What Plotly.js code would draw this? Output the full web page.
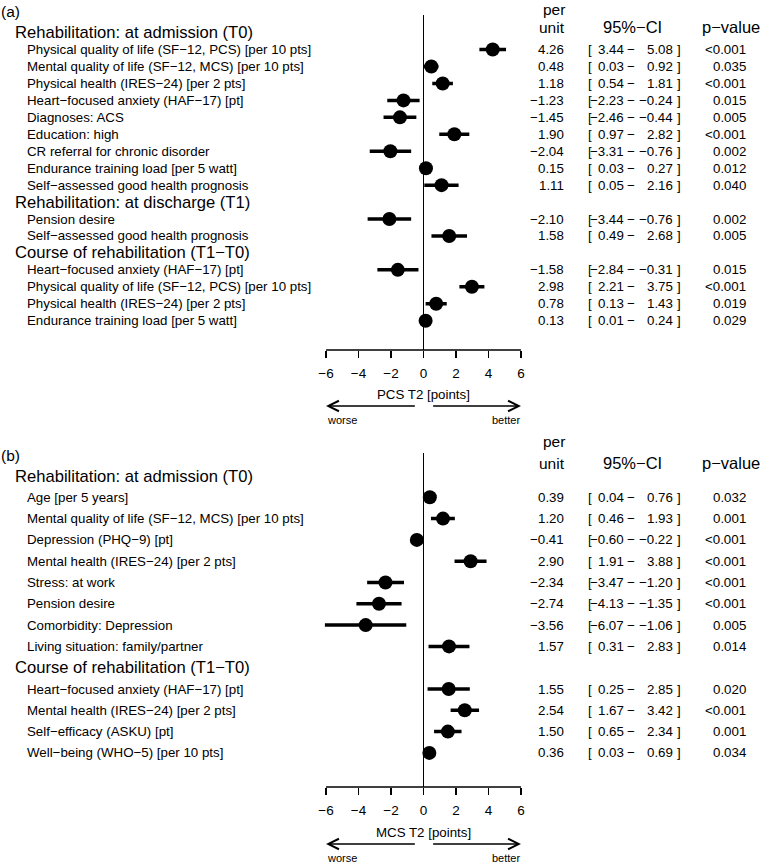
<!DOCTYPE html>
<html><head><meta charset="utf-8">
<script src="https://cdn.plot.ly/plotly-3.0.1.min.js"></script>
<style>html,body{margin:0;padding:0;background:#fff}#chart{width:766px;height:865px}</style>
</head><body><div id="chart"></div>
<script>
// ---------- Panel (a): PCS T2 ----------
const aGroups = ["Rehabilitation: at admission (T0)", "Rehabilitation: at discharge (T1)", "Course of rehabilitation (T1\u2212T0)"];
const aGroupSizes = [9, 2, 4];
const aLabels = [
  "Physical quality of life (SF\u221212, PCS) [per 10 pts]",
  "Mental quality of life (SF\u221212, MCS) [per 10 pts]",
  "Physical health (IRES\u221224) [per 2 pts]",
  "Heart\u2212focused anxiety (HAF\u221217) [pt]",
  "Diagnoses: ACS",
  "Education: high",
  "CR referral for chronic disorder",
  "Endurance training load [per 5 watt]",
  "Self\u2212assessed good health prognosis",
  "Pension desire",
  "Self\u2212assessed good health prognosis",
  "Heart\u2212focused anxiety (HAF\u221217) [pt]",
  "Physical quality of life (SF\u221212, PCS) [per 10 pts]",
  "Physical health (IRES\u221224) [per 2 pts]",
  "Endurance training load [per 5 watt]"
];
const aEst = [4.26, 0.48, 1.18, -1.23, -1.45, 1.90, -2.04, 0.15, 1.11, -2.10, 1.58, -1.58, 2.98, 0.78, 0.13];
const aLo  = [3.44, 0.03, 0.54, -2.23, -2.46, 0.97, -3.31, 0.03, 0.05, -3.44, 0.49, -2.84, 2.21, 0.13, 0.01];
const aHi  = [5.08, 0.92, 1.81, -0.24, -0.44, 2.82, -0.76, 0.27, 2.16, -0.76, 2.68, -0.31, 3.75, 1.43, 0.24];
const aP   = ["<0.001", "0.035", "<0.001", "0.015", "0.005", "<0.001", "0.002", "0.012", "0.040", "0.002", "0.005", "0.015", "<0.001", "0.019", "0.029"];
const aAxisTitle = "PCS T2 [points]";

// ---------- Panel (b): MCS T2 ----------
const bGroups = ["Rehabilitation: at admission (T0)", "Course of rehabilitation (T1\u2212T0)"];
const bGroupSizes = [8, 4];
const bLabels = [
  "Age [per 5 years]",
  "Mental quality of life (SF\u221212, MCS) [per 10 pts]",
  "Depression (PHQ\u22129) [pt]",
  "Mental health (IRES\u221224) [per 2 pts]",
  "Stress: at work",
  "Pension desire",
  "Comorbidity: Depression",
  "Living situation: family/partner",
  "Heart\u2212focused anxiety (HAF\u221217) [pt]",
  "Mental health (IRES\u221224) [per 2 pts]",
  "Self\u2212efficacy (ASKU) [pt]",
  "Well\u2212being (WHO\u22125) [per 10 pts]"
];
const bEst = [0.39, 1.20, -0.41, 2.90, -2.34, -2.74, -3.56, 1.57, 1.55, 2.54, 1.50, 0.36];
const bLo  = [0.04, 0.46, -0.60, 1.91, -3.47, -4.13, -6.07, 0.31, 0.25, 1.67, 0.65, 0.03];
const bHi  = [0.76, 1.93, -0.22, 3.88, -1.20, -1.35, -1.06, 2.83, 2.85, 3.42, 2.34, 0.69];
const bP   = ["0.032", "0.001", "<0.001", "<0.001", "<0.001", "<0.001", "0.005", "0.014", "0.020", "<0.001", "0.001", "0.034"];
const bAxisTitle = "MCS T2 [points]";

// ---------- shared ----------
const xTicks = [-6, -4, -2, 0, 2, 4, 6];
const colHeaders = ["per", "unit", "95%\u2212CI", "p\u2212value"];
const panelTags = ["(a)", "(b)"];
const worseBetter = ["worse", "better"];

const W = 766, H = 865;
const FONT = "Liberation Sans, Arial, Helvetica, sans-serif";
const px = v => v / W;
const py = v => 1 - v / H;
const fmt = v => v.toFixed(2).replace("-", "\u2212");

function rowsFor(sizes) {
  const headerRows = [], itemRows = [];
  let r = 0;
  sizes.forEach(n => { headerRows.push(r); r++; for (let i = 0; i < n; i++) { itemRows.push(r); r++; } });
  return { headerRows, itemRows };
}

const annotations = [];
function txt(text, x, yref, y, anchor, size) {
  annotations.push({ text, x: px(x), xref: "paper", y, yref, xanchor: anchor, yanchor: "middle",
    showarrow: false, font: { family: FONT, size, color: "black" }, borderpad: 0 });
}

function buildPanel(opt) {
  const { groups, sizes, labels, est, lo, hi, p, yref, xref, axTitle, geo } = opt;
  const { headerRows, itemRows } = rowsFor(sizes);
  groups.forEach((g, i) => txt(g, 14, yref, headerRows[i], "left", 16.6));
  labels.forEach((l, i) => {
    const r = itemRows[i];
    txt(l, 26, yref, r, "left", 13.3);
    txt(fmt(est[i]), 565, yref, r, "right", 13.3);
    txt("[", 587, yref, r, "left", 13.3);
    txt(fmt(lo[i]), 625, yref, r, "right", 13.3);
    txt("\u2212", 631, yref, r, "center", 13.3);
    txt(fmt(hi[i]), 674, yref, r, "right", 13.3);
    txt("]", 676, yref, r, "left", 13.3);
    txt(p[i], 747, yref, r, "right", 13.3);
  });
  // column headers (paper coords)
  txt(colHeaders[0], 566, "paper", py(geo.perY), "right", 15.5);
  txt(colHeaders[1], 566, "paper", py(geo.unitY), "right", 15.5);
  txt(colHeaders[2], 632, "paper", py(geo.ciY), "center", 16.5);
  txt(colHeaders[3], 731, "paper", py(geo.ciY), "center", 16.5);
  txt(geo.tag, 0, "paper", py(geo.tagY), "left", 15.5);
  // axis title
  annotations.push({ text: axTitle, x: 0, xref, y: py(geo.titleY), yref: "paper", xanchor: "center", yanchor: "middle",
    showarrow: false, font: { family: FONT, size: 13.3, color: "black" } });
  // arrows
  annotations.push({ text: "", x: -6, xref, y: py(geo.arrowY), yref: "paper", axref: xref, ax: -0.44, ayref: "pixel", ay: 0,
    showarrow: true, arrowhead: 5, arrowsize: 1.6, arrowwidth: 1.3, arrowcolor: "black", standoff: 0 });
  annotations.push({ text: "", x: 6, xref, y: py(geo.arrowY), yref: "paper", axref: xref, ax: 0.5, ayref: "pixel", ay: 0,
    showarrow: true, arrowhead: 5, arrowsize: 1.6, arrowwidth: 1.3, arrowcolor: "black", standoff: 0 });
  txt(worseBetter[0], 326, "paper", py(geo.arrowY + 14), "left", 11);
  txt(worseBetter[1], 521, "paper", py(geo.arrowY + 14), "right", 11);

  return {
    type: "scatter", mode: "markers", x: est, y: itemRows, xaxis: xref, yaxis: yref,
    marker: { size: 14, color: "black" },
    error_x: { type: "data", symmetric: false, array: est.map((e, i) => hi[i] - e), arrayminus: est.map((e, i) => e - lo[i]),
      thickness: 3.5, width: 0, color: "black" },
    cliponaxis: false, hoverinfo: "skip"
  };
}

const traceA = buildPanel({ groups: aGroups, sizes: aGroupSizes, labels: aLabels, est: aEst, lo: aLo, hi: aHi, p: aP,
  yref: "y", xref: "x", axTitle: aAxisTitle,
  geo: { perY: 9.3, unitY: 28, ciY: 27, tagY: 11, tag: panelTags[0], titleY: 394, arrowY: 406 } });
const traceB = buildPanel({ groups: bGroups, sizes: bGroupSizes, labels: bLabels, est: bEst, lo: bLo, hi: bHi, p: bP,
  yref: "y2", xref: "x2", axTitle: bAxisTitle,
  geo: { perY: 442, unitY: 463, ciY: 463, tagY: 455, tag: panelTags[1], titleY: 832, arrowY: 844 } });

const xDomain = [px(323.6), px(523.4)];
function xAxis(anchor) {
  return { domain: xDomain, range: [-6.15, 6.15], anchor, tickvals: xTicks, ticks: "outside", ticklen: 7, tickwidth: 1.3,
    tickcolor: "black", showgrid: false, showline: false, zeroline: true, zerolinecolor: "black", zerolinewidth: 1.3,
    ticklabelstandoff: 4,
    tickfont: { family: FONT, size: 13.5, color: "black" }, fixedrange: true };
}
function yAxis(anchor, domain, range) {
  return { domain, range, anchor, visible: false, showgrid: false, zeroline: false, fixedrange: true };
}

const layout = {
  width: W, height: H, margin: { l: 0, r: 0, t: 0, b: 0 },
  paper_bgcolor: "white", plot_bgcolor: "white", showlegend: false,
  font: { family: FONT, color: "black" },
  xaxis: xAxis("y"),
  yaxis: yAxis("x", [py(350), py(15)], [18.73, -1.04]),
  xaxis2: xAxis("y2"),
  yaxis2: yAxis("x2", [py(787), py(453)], [14.6, -1.08]),
  shapes: [
    { type: "line", xref: "x", yref: "y domain", x0: -6, x1: 6, y0: 0, y1: 0, line: { color: "black", width: 1.3 } },
    { type: "line", xref: "x2", yref: "y2 domain", x0: -6, x1: 6, y0: 0, y1: 0, line: { color: "black", width: 1.3 } }
  ],
  annotations
};

Plotly.newPlot("chart", [traceA, traceB], layout, { displayModeBar: false, staticPlot: true });
</script>
</body></html>
